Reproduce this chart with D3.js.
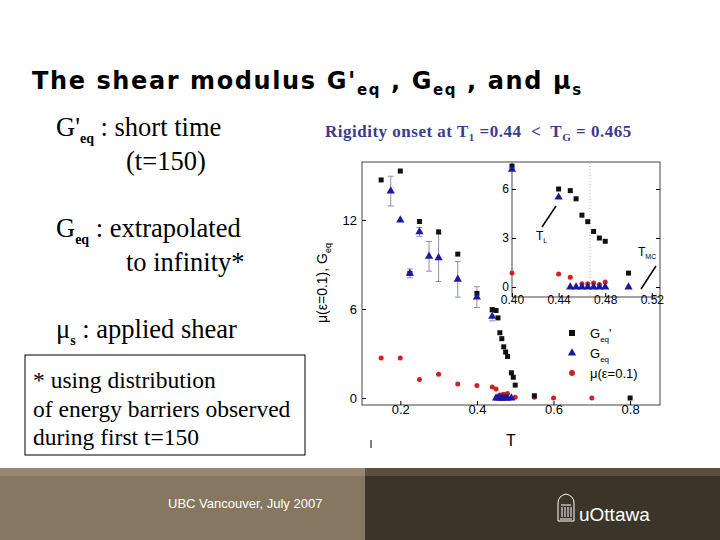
<!DOCTYPE html>
<html><head><meta charset="utf-8">
<script src="https://cdn.jsdelivr.net/npm/d3@7/dist/d3.min.js"></script>
<style>body{margin:0;background:#fff}svg{display:block}</style></head>
<body><svg id="s" width="720" height="540"></svg>
<script>
// Main plot data
const gpT = [0.15,0.2,0.225,0.25,0.3,0.35,0.4,0.44,0.45,0.455,0.46,0.465,0.47,0.475,0.48,0.49,0.495,0.5,0.55,0.8];
const gpV = [14.7,15.3,8.4,11.9,11.2,9.7,7.05,5.96,5.9,5.4,4.4,4.0,3.45,3.1,2.8,1.7,1.4,0.87,0.15,0];
const gT = [0.175,0.2,0.225,0.25,0.275,0.3,0.35,0.4,0.44,0.45,0.455,0.46,0.465,0.47,0.475,0.48,0.49];
const gV = [13.95,12.0,8.4,11.2,9.55,9.45,8.0,6.8,5.5,0,0,0,0,0,0,0,0];
const gErr = [1.0,0,0.3,0.3,1.0,1.6,1.2,0.7,0.3,0,0,0,0,0,0,0,0];
const muT = [0.15,0.2,0.25,0.3,0.35,0.4,0.44,0.45,0.46,0.465,0.47,0.475,0.48,0.5,0.55,0.6,0.7];
const muV = [2.7,2.7,1.25,1.6,0.95,0.85,0.75,0.6,0.2,0.2,0.25,0.15,0.3,0.05,0.05,0,0];
const xTicks = [0.2,0.4,0.6,0.8];
const yTicks = [0,6,12];
// Inset data
const iGpT = [0.40,0.44,0.45,0.455,0.46,0.465,0.47,0.475,0.48,0.50];
const iGpV = [7.4,6.0,5.9,5.4,4.4,4.0,3.4,3.0,2.8,0.85];
const iGT = [0.40,0.44,0.45,0.455,0.46,0.465,0.47,0.475,0.48,0.50];
const iGV = [7.2,5.5,0,0,0,0,0,0,0,0];
const iMuT = [0.40,0.44,0.45,0.46,0.465,0.47,0.475,0.48];
const iMuV = [0.85,0.8,0.6,0.2,0.2,0.25,0.15,0.3];
const ixTicks = [0.40,0.44,0.48,0.52];
const iyTicks = [0,3,6];

const svg = d3.select("#s");
const BLK="#111", BLU="#1a1aa0", RED="#d02020";

// Title
const title = svg.append("text").attr("x",32).attr("y",89).attr("font-family","DejaVu Sans").attr("font-weight","bold").attr("font-size",24).attr("letter-spacing",1.6).attr("fill","#000");
title.append("tspan").text("The shear modulus G'");
title.append("tspan").attr("font-size",15).attr("dy",6).text("eq");
title.append("tspan").attr("dy",-6).text(" , G");
title.append("tspan").attr("font-size",15).attr("dy",6).text("eq");
title.append("tspan").attr("dy",-6).text(" , and μ");
title.append("tspan").attr("font-size",15).attr("dy",6).text("s");

function serif(x,y,parts){
  const t=svg.append("text").attr("x",x).attr("y",y).attr("font-family","Liberation Serif").attr("font-size",26.5).attr("fill","#000");
  parts.forEach(p=>{const s=t.append("tspan").text(p[0]); if(p[1]){s.attr("font-size",14).attr("font-weight","bold").attr("dy",7);} if(p[2]) s.attr("dy",-7);});
  return t;
}
serif(56,136,[["G'"],["eq",1],[" : short time",0,1]]);
serif(126,170,[["(t=150)"]]);
serif(56,237,[["G"],["eq",1],[" : extrapolated",0,1]]);
serif(126,271,[["to infinity*"]]);
serif(56,338,[["μ"],["s",1],[" : applied shear",0,1]]);

svg.append("rect").attr("x",25).attr("y",355).attr("width",280).attr("height",100).attr("fill","none").attr("stroke","#000");
["* using distribution","of energy barriers observed","during first t=150"].forEach((s,i)=>
  svg.append("text").attr("x",33).attr("y",388+i*28.5).attr("font-family","Liberation Serif").attr("font-size",23.5).text(s));

const rg=svg.append("text").attr("x",325).attr("y",137).attr("font-family","Liberation Serif").attr("font-weight","bold").attr("font-size",17).attr("letter-spacing",0.5).attr("fill","#3b3b8e").style("white-space","pre");
rg.append("tspan").text("Rigidity onset at T");
rg.append("tspan").attr("font-size",11).attr("dy",4).text("1");
rg.append("tspan").attr("dy",-4).text(" =0.44  <  T");
rg.append("tspan").attr("font-size",11).attr("dy",4).text("G");
rg.append("tspan").attr("dy",-4).text(" = 0.465");

// Main axes
const x = d3.scaleLinear().domain([0.1,0.878]).range([362,660]);
const y = d3.scaleLinear().domain([0,12]).range([398,220]);
const g = svg.append("g");
g.append("rect").attr("x",362).attr("y",162).attr("width",298).attr("height",243).attr("fill","none").attr("stroke","#444");
const ax = d3.axisBottom(x).tickValues(xTicks).tickFormat(d3.format(".1f")).tickSize(-4);
g.append("g").attr("transform","translate(0,405)").call(ax).call(s=>{s.select(".domain").remove();s.selectAll("text").attr("font-family","Liberation Sans").attr("font-size",13).attr("dy",6);});
const ay = d3.axisLeft(y).tickValues(yTicks).tickSize(-4);
g.append("g").attr("transform","translate(362,0)").call(ay).call(s=>{s.select(".domain").remove();s.selectAll("text").attr("font-family","Liberation Sans").attr("font-size",13).attr("dx",-2);});
svg.append("text").attr("x",511).attr("y",446).attr("text-anchor","middle").attr("font-family","Liberation Sans").attr("font-size",16).text("T");
const yl=svg.append("text").attr("transform","translate(327,283) rotate(-90)").attr("text-anchor","middle").attr("font-family","Liberation Sans").attr("font-size",14);
yl.append("tspan").text("μ(ε=0.1), G");
yl.append("tspan").attr("font-size",9).attr("dy",4).text("eq");

function marks(grp,xs,ys,Ts,Vs,shape,col,sz){
  Ts.forEach((t,i)=>{
    const cx=xs(t), cy=ys(Vs[i]);
    if(shape==="sq") grp.append("rect").attr("x",cx-sz/2).attr("y",cy-sz/2).attr("width",sz).attr("height",sz).attr("fill",col);
    else if(shape==="tri") grp.append("path").attr("d",d3.symbol(d3.symbolTriangle,sz*sz*0.6)()).attr("transform",`translate(${cx},${cy})`).attr("fill",col);
    else grp.append("circle").attr("cx",cx).attr("cy",cy).attr("r",sz/2).attr("fill",col);
  });
}
gT.forEach((t,i)=>{ if(gErr[i]>0){ const cx=x(t);
  g.append("line").attr("x1",cx).attr("x2",cx).attr("y1",y(gV[i]-gErr[i])).attr("y2",y(gV[i]+gErr[i])).attr("stroke","#8890b0");
  [gV[i]-gErr[i],gV[i]+gErr[i]].forEach(v=>g.append("line").attr("x1",cx-3).attr("x2",cx+3).attr("y1",y(v)).attr("y2",y(v)).attr("stroke","#8890b0"));}});
marks(g,x,y,muT,muV,"c",RED,5);
marks(g,x,y,gpT,gpV,"sq",BLK,5);
marks(g,x,y,gT,gV,"tri",BLU,7);

// Inset
const ix = d3.scaleLinear().domain([0.40,0.527]).range([512,660]);
const iy = d3.scaleLinear().domain([0,6]).range([287,189]);
const ig = svg.append("g");
ig.append("rect").attr("x",512).attr("y",163).attr("width",147).attr("height",134).attr("fill","#fff");
ig.append("path").attr("d","M512,163V297H660").attr("fill","none").attr("stroke","#444");
ig.append("line").attr("x1",ix(0.467)).attr("x2",ix(0.467)).attr("y1",163).attr("y2",297).attr("stroke","#bbb").attr("stroke-dasharray","1,2");
ig.append("g").attr("transform","translate(0,297)").call(d3.axisBottom(ix).tickValues(ixTicks).tickFormat(d3.format(".2f")).tickSize(-4)).call(s=>{s.select(".domain").remove();s.selectAll("text").attr("font-family","Liberation Sans").attr("font-size",12).attr("dy",4);});
ig.append("g").attr("transform","translate(512,0)").call(d3.axisLeft(iy).tickValues(iyTicks).tickFormat(d3.format("d")).tickSize(-4)).call(s=>{s.select(".domain").remove();s.selectAll("text").attr("font-family","Liberation Sans").attr("font-size",12);});
ig.append("g").attr("transform","translate(660,0)").call(d3.axisRight(iy).tickValues(iyTicks).tickSize(-4).tickFormat("")).call(s=>s.select(".domain").remove());
marks(ig,ix,iy,iMuT,iMuV,"c",RED,5);
marks(ig,ix,iy,iGpT,iGpV,"sq",BLK,5);
marks(ig,ix,iy,iGT,iGV,"tri",BLU,7);
ig.append("line").attr("x1",556).attr("y1",206).attr("x2",542).attr("y2",227).attr("stroke","#000").attr("stroke-width",1.5);
const tl=ig.append("text").attr("x",536).attr("y",240).attr("font-family","Liberation Sans").attr("font-size",12).text("T");
tl.append("tspan").attr("font-size",7).attr("dy",3).text("L");
ig.append("line").attr("x1",656).attr("y1",266).attr("x2",641).attr("y2",289).attr("stroke","#000").attr("stroke-width",1.5);
const tm=ig.append("text").attr("x",638).attr("y",256).attr("font-family","Liberation Sans").attr("font-size",12).text("T");
tm.append("tspan").attr("font-size",7).attr("dy",3).text("MC");

// Legend
const lg=svg.append("g").attr("font-family","Liberation Sans").attr("font-size",13);
[["sq",BLK,"G","eq","'"],["tri",BLU,"G","eq",""],["c",RED,"μ(ε=0.1)","",""]].forEach((d,i)=>{
  const cy=333+i*20, cx=572;
  if(d[0]==="sq") lg.append("rect").attr("x",cx-3).attr("y",cy-3).attr("width",6).attr("height",6).attr("fill",d[1]);
  else if(d[0]==="tri") lg.append("path").attr("d",d3.symbol(d3.symbolTriangle,30)()).attr("transform",`translate(${cx},${cy})`).attr("fill",d[1]);
  else lg.append("circle").attr("cx",cx).attr("cy",cy).attr("r",3).attr("fill",d[1]);
  const t=lg.append("text").attr("x",590).attr("y",cy+5).text(d[2]);
  if(d[3]){t.append("tspan").attr("font-size",8).attr("dy",4).text(d[3]); if(d[4]) t.append("tspan").attr("dy",-4).text(d[4]);}
});

// Footer
svg.append("rect").attr("x",0).attr("y",468).attr("width",720).attr("height",72).attr("fill","#867761");
svg.append("rect").attr("x",0).attr("y",468).attr("width",720).attr("height",8).attr("fill","#978773");
svg.append("rect").attr("x",365).attr("y",468).attr("width",355).attr("height",72).attr("fill","#3b3429");
svg.append("rect").attr("x",365).attr("y",468).attr("width",355).attr("height",8).attr("fill","#5a4e40");
svg.append("line").attr("x1",371).attr("x2",371).attr("y1",440).attr("y2",448).attr("stroke","#000");
svg.append("text").attr("x",168).attr("y",508).attr("font-family","Liberation Sans Narrow, Liberation Sans").attr("font-size",13).attr("fill","#fff").text("UBC Vancouver, July 2007");
const lo=svg.append("g").attr("stroke","#fff").attr("fill","none");
lo.append("path").attr("d","M558,521V503Q558,496 566,494Q574,496 574,503V521Z");
lo.append("path").attr("d","M561,505H571M562,507V517M565,507V517M568,507V517M571,507V517M560,519H572");
svg.append("text").attr("x",579).attr("y",521).attr("font-family","Liberation Sans Narrow, Liberation Sans").attr("font-size",19).attr("fill","#fff").text("uOttawa");
</script></body></html>
